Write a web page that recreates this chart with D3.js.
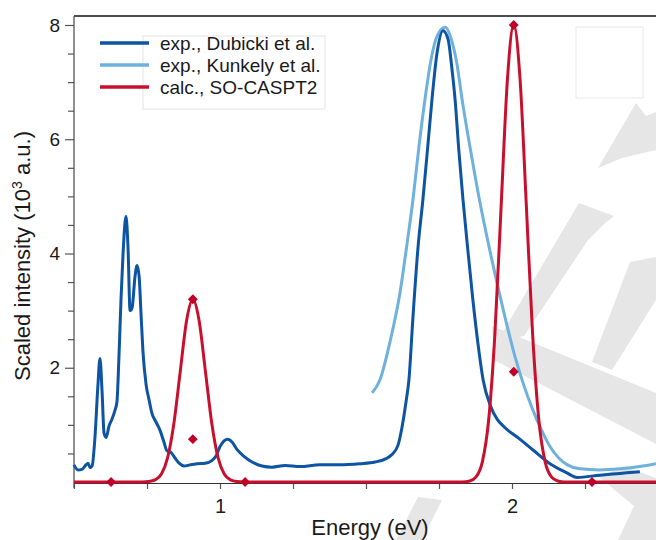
<!DOCTYPE html>
<html><head><meta charset="utf-8">
<script src="https://cdn.jsdelivr.net/npm/d3@7"></script>
<style>
html,body{margin:0;padding:0;background:#fff;}
svg{display:block;font-family:"Liberation Sans",Arial,Helvetica,sans-serif;}
</style></head>
<body>
<svg id="chart" width="656" height="540"></svg>
<script>
// ---------- data (energy in eV, intensity in 10^3 a.u.) ----------
const dubickiEnergy = [0.500,0.514,0.527,0.541,0.548,0.555,0.562,0.572,0.582,0.589,0.596,0.603,0.610,0.620,0.630,0.640,0.647,0.654,0.661,0.668,0.678,0.685,0.692,0.699,0.709,0.716,0.723,0.729,0.736,0.747,0.757,0.767,0.781,0.795,0.808,0.818,0.832,0.846,0.860,0.877,0.897,0.921,0.949,0.973,0.986,1.000,1.014,1.027,1.041,1.058,1.082,1.110,1.144,1.178,1.223,1.274,1.342,1.411,1.479,1.531,1.565,1.589,1.610,1.623,1.637,1.647,1.661,1.678,1.695,1.712,1.726,1.743,1.764,1.781,1.795,1.805,1.818,1.832,1.849,1.866,1.884,1.901,1.925,1.949,1.976,2.027,2.072,2.130,2.188,2.223,2.301,2.370,2.438];
const dubickiIntensity = [0.30,0.21,0.22,0.30,0.33,0.25,0.28,0.80,1.70,2.16,1.60,0.85,0.78,0.98,1.10,1.25,1.40,2.20,3.20,4.00,4.65,4.10,3.00,3.05,3.60,3.79,3.60,3.00,2.30,1.70,1.44,1.20,1.05,0.90,0.70,0.55,0.52,0.42,0.33,0.28,0.30,0.32,0.33,0.38,0.45,0.62,0.72,0.75,0.70,0.57,0.45,0.35,0.28,0.26,0.29,0.27,0.30,0.30,0.32,0.35,0.40,0.48,0.65,0.95,1.40,1.79,2.90,4.10,4.95,5.90,6.70,7.50,7.90,7.75,7.20,6.70,5.80,4.95,4.05,3.19,2.40,1.79,1.35,1.10,0.95,0.75,0.56,0.32,0.16,0.08,0.12,0.15,0.18];

const kunkelyEnergy = [1.521,1.548,1.582,1.616,1.640,1.661,1.682,1.702,1.723,1.743,1.771,1.795,1.812,1.829,1.860,1.890,1.920,1.950,1.980,2.010,2.040,2.070,2.100,2.130,2.160,2.190,2.233,2.301,2.370,2.438,2.493];
const kunkelyIntensity = [1.56,1.79,2.45,3.30,4.15,4.95,5.90,6.70,7.40,7.80,7.96,7.70,7.30,6.70,5.75,4.90,4.15,3.45,2.80,2.20,1.70,1.28,0.92,0.62,0.42,0.30,0.23,0.21,0.23,0.27,0.32];

const calcEnergy = [0.500,0.735,0.7565,0.778,0.7995,0.821,0.8425,0.864,0.8855,0.907,0.9285,0.950,0.9715,0.993,1.0145,1.036,1.0575,1.080,1.830,1.8555,1.877,1.8985,1.920,1.9415,1.963,1.9845,2.006,2.0275,2.049,2.0705,2.092,2.1135,2.135,2.1565,2.180,2.500];
const calcIntensity = [0,0,0.007,0.036,0.14,0.433,1.039,1.941,2.824,3.20,2.824,1.941,1.039,0.433,0.14,0.036,0.007,0,0,0.018,0.089,0.351,1.082,2.598,4.852,7.06,8.00,7.06,4.852,2.598,1.082,0.351,0.089,0.018,0,0];

const stickEnergy = [0.627,0.907,0.907,1.086,2.006,2.006,2.274];
const stickIntensity = [0,3.20,0.75,0,8.00,1.93,0];

const seriesNames = ["exp., Dubicki et al.","exp., Kunkely et al.","calc., SO-CASPT2"];
const seriesColors = ["#0d54a2","#6fb1dd","#c8102e"];
const yTickLabels = [2,4,6,8];
const xTickLabels = [1,2];

// ---------- layout ----------
const svg = d3.select("#chart");
const x = d3.scaleLinear().domain([0.5, 2.5]).range([74, 658]);
const y = d3.scaleLinear().domain([0, 8]).range([482, 25]);

// watermark (light gray shapes)
const wm = svg.append("g").attr("fill","#e6e6e6");
const wmShapes = [
  [[598,168],[636,103],[646,116],[656,112],[656,150],[622,158]],
  [[579,203],[614,216],[604,224],[588,240],[524,336],[497,342]],
  [[492,326],[656,393],[656,444],[494,360]],
  [[630,262],[656,257],[656,300],[612,370],[592,362]],
  [[418,497],[442,500],[422,540],[396,540]],
  [[598,476],[626,467],[656,478],[656,540],[618,540],[634,506]]
];
wmShapes.forEach(p => wm.append("polygon").attr("points", p.map(d=>d.join(",")).join(" ")));

// frame top line
svg.append("line").attr("x1",74).attr("x2",656).attr("y1",16).attr("y2",16)
  .attr("stroke","#111").attr("stroke-width",1.4);

// extra faint rectangle top right
svg.append("rect").attr("x",576).attr("y",27).attr("width",67).attr("height",71)
  .attr("fill","none").attr("stroke","#e8e8e8").attr("stroke-width",1);

// y axis
const yAxis = d3.axisLeft(y).tickValues(d3.range(0.5, 8.01, 0.5)).tickSize(6)
  .tickFormat(d => yTickLabels.includes(d) ? d3.format("d")(d) : "");
const gy = svg.append("g").attr("transform","translate(74,0)").call(yAxis);
gy.select(".domain").remove();
gy.selectAll(".tick line").attr("stroke","#555").attr("stroke-width",1.2)
  .attr("x2", d => yTickLabels.includes(d) ? -9 : -6);
gy.selectAll(".tick text").attr("x",-14).attr("font-size",19).attr("fill","#1a1a1a")
  .attr("font-family","Liberation Sans, Arial, sans-serif");
svg.append("line").attr("x1",74).attr("x2",74).attr("y1",16).attr("y2",488)
  .attr("stroke","#555").attr("stroke-width",1.3);

// x axis
const xAxis = d3.axisBottom(x).tickValues(d3.range(0.5, 2.51, 0.25)).tickSize(6)
  .tickFormat(d => xTickLabels.includes(d) ? d3.format("d")(d) : "");
const gx = svg.append("g").attr("transform","translate(0,483)").call(xAxis);
gx.select(".domain").remove();
gx.selectAll(".tick line").attr("stroke","#555").attr("stroke-width",1.2);
gx.selectAll(".tick text").attr("y",16).attr("font-size",20).attr("fill","#1a1a1a")
  .attr("font-family","Liberation Sans, Arial, sans-serif");
svg.append("line").attr("x1",74).attr("x2",656).attr("y1",483.5).attr("y2",483.5)
  .attr("stroke","#333").attr("stroke-width",1.2);

// axis titles
svg.append("text").attr("x",370).attr("y",535).attr("text-anchor","middle")
  .attr("font-size",22).attr("fill","#1a1a1a").text("Energy (eV)");
const yt = svg.append("text").attr("transform","translate(30,256) rotate(-90)")
  .attr("text-anchor","middle").attr("font-size",22).attr("fill","#1a1a1a");
yt.append("tspan").text("Scaled intensity (10");
yt.append("tspan").attr("dy",-8).attr("font-size",14).text("3");
yt.append("tspan").attr("dy",8).text(" a.u.)");

// lines
const line = d3.line().x(d => x(d[0])).y(d => y(d[1])).curve(d3.curveMonotoneX);
const zip = (a,b) => a.map((v,i)=>[v,b[i]]);
const plot = svg.append("g");
plot.append("path").datum(zip(kunkelyEnergy,kunkelyIntensity)).attr("d",line)
  .attr("fill","none").attr("stroke",seriesColors[1]).attr("stroke-width",3).attr("stroke-linejoin","round");
plot.append("path").datum(zip(dubickiEnergy,dubickiIntensity)).attr("d",line)
  .attr("fill","none").attr("stroke",seriesColors[0]).attr("stroke-width",3).attr("stroke-linejoin","round");
plot.append("path").datum(zip(calcEnergy,calcIntensity)).attr("d",line)
  .attr("fill","none").attr("stroke",seriesColors[2]).attr("stroke-width",3).attr("stroke-linejoin","round");

// stick markers (diamonds)
const sym = d3.symbol().type(d3.symbolDiamond2).size(62);
plot.selectAll(".stick").data(zip(stickEnergy,stickIntensity)).enter().append("path")
  .attr("class","stick").attr("d",sym)
  .attr("transform", d => `translate(${x(d[0])},${y(d[1])})`)
  .attr("fill","#c00026");

// legend
svg.append("rect").attr("x",143).attr("y",36).attr("width",182).attr("height",73)
  .attr("fill","none").attr("stroke","#e4e4e4").attr("stroke-width",1);
const lg = svg.append("g");
seriesNames.forEach((n,i) => {
  const yy = 43 + i*22;
  lg.append("line").attr("x1",100).attr("x2",149).attr("y1",yy).attr("y2",yy)
    .attr("stroke",seriesColors[i]).attr("stroke-width",3.5);
  lg.append("text").attr("x",160).attr("y",yy+6.5).attr("font-size",19)
    .attr("fill","#1a1a1a").text(n);
});
</script>
</body></html>
